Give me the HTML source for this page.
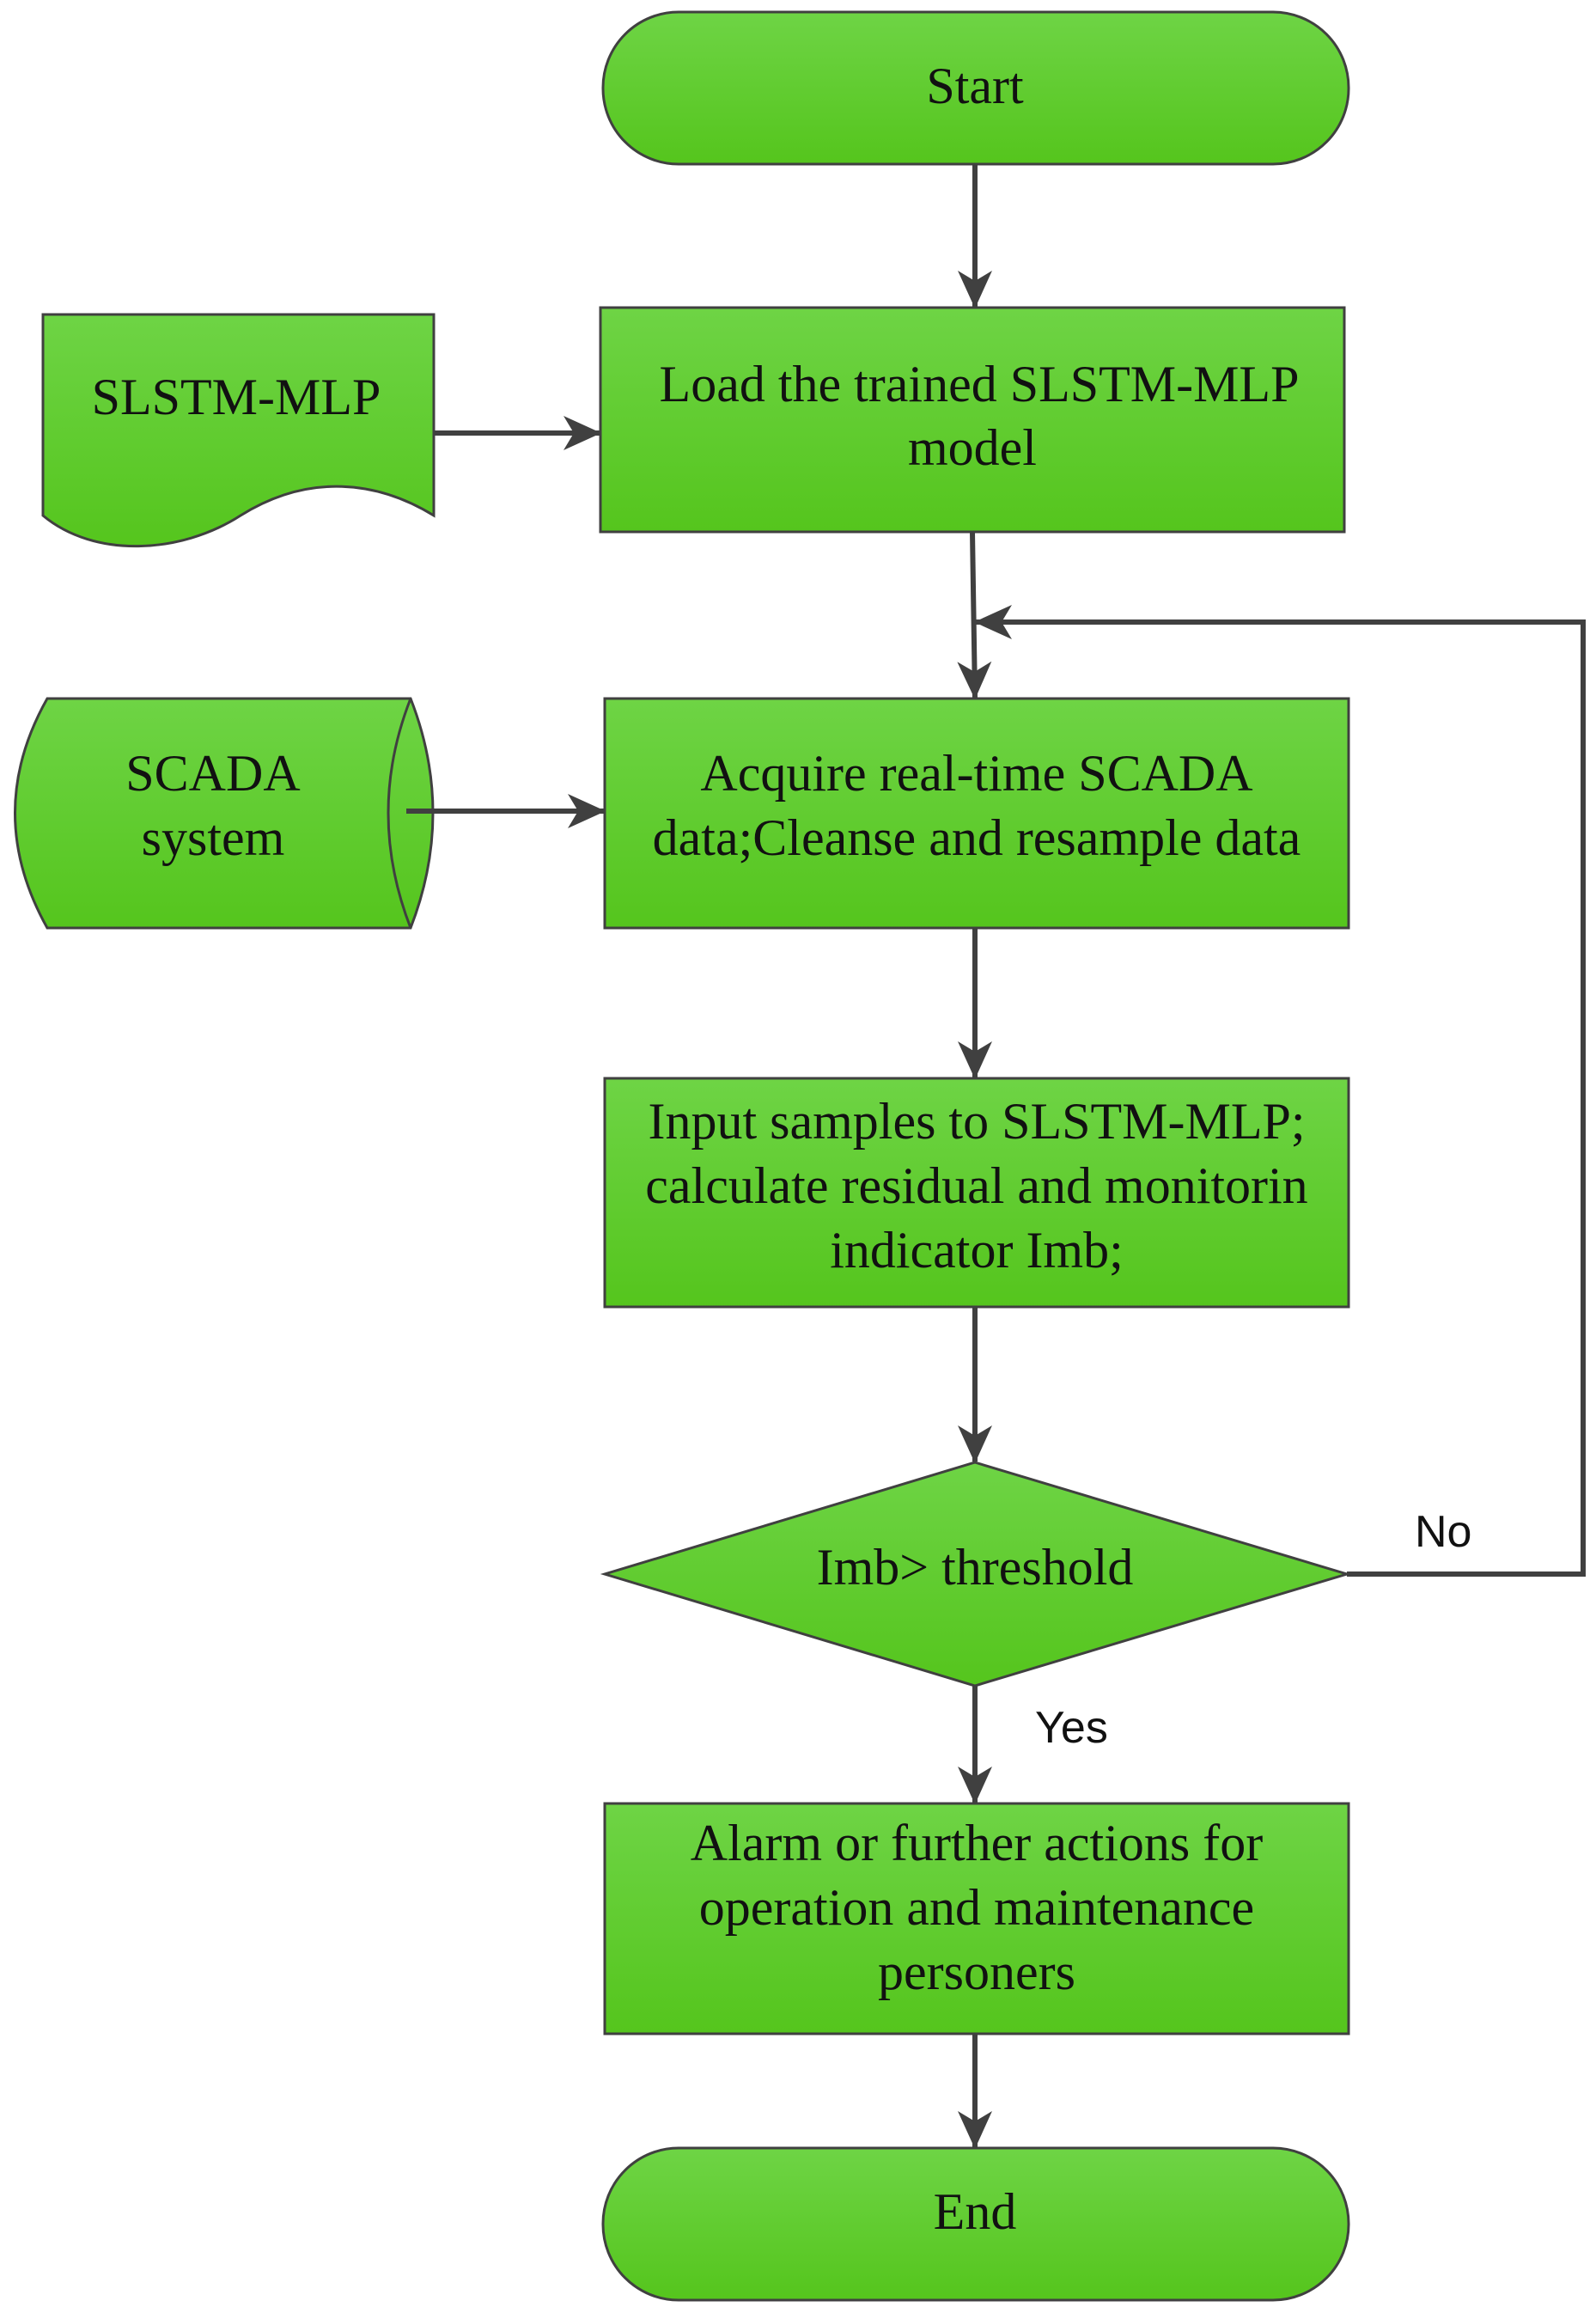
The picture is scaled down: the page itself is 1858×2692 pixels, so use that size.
<!DOCTYPE html>
<html><head><style>html,body{margin:0;padding:0;background:#fff}</style></head><body>
<svg width="1858" height="2687" viewBox="0 0 1858 2687" xmlns="http://www.w3.org/2000/svg">
<defs>
<linearGradient id="g" x1="0" y1="0" x2="0" y2="1"><stop offset="0" stop-color="#6ed445"/><stop offset="1" stop-color="#55c51d"/></linearGradient>
<marker id="a" markerWidth="44" markerHeight="40" refX="42" refY="20" orient="auto" markerUnits="userSpaceOnUse" viewBox="0 0 44 40"><path d="M0,0 L44,20 L0,40 L12,20 Z" fill="#404040"/></marker>
</defs>
<g fill="url(#g)" stroke="#404040" stroke-width="3">
<rect x="702" y="14" width="868" height="177" rx="88"/>
<rect x="699" y="358" width="866" height="261"/>
<path d="M50,366 L505,366 L505,600 C440,560 360,550 280,600 C210,645 110,650 50,600 Z"/>
<rect x="704" y="813" width="866" height="267"/>
<path d="M55,813 L478,813 Q530,946 478,1080 L55,1080 Q-20,946 55,813 Z"/>
<path d="M478,813 Q426,946 478,1080" fill="none"/>
<rect x="704" y="1255" width="866" height="266"/>
<path d="M1135,1702 L1568,1832 L1135,1962 L704,1832 Z"/>
<rect x="704" y="2099" width="866" height="268"/>
<rect x="702" y="2500" width="868" height="177" rx="88"/>
</g>
<g stroke="#404040" stroke-width="6" fill="none">
<line x1="1135" y1="191" x2="1135" y2="357" marker-end="url(#a)"/>
<line x1="505" y1="504" x2="698" y2="504" marker-end="url(#a)"/>
<line x1="1132" y1="619" x2="1135" y2="812" marker-end="url(#a)"/>
<polyline points="1568,1832 1843,1832 1843,724 1136,724" marker-end="url(#a)"/>
<line x1="473" y1="944" x2="703" y2="944" marker-end="url(#a)"/>
<line x1="1135" y1="1080" x2="1135" y2="1254" marker-end="url(#a)"/>
<line x1="1135" y1="1521" x2="1135" y2="1701" marker-end="url(#a)"/>
<line x1="1135" y1="1962" x2="1135" y2="2098" marker-end="url(#a)"/>
<line x1="1135" y1="2367" x2="1135" y2="2499" marker-end="url(#a)"/>
</g>
<style>.t{font-family:"Liberation Serif",serif;font-size:60px;fill:#111;text-anchor:middle}.s{font-family:"Liberation Sans",sans-serif;font-size:52px;fill:#111}</style>
<text class="t" x="1135" y="120">Start</text>
<text class="t" x="1140" y="467">Load the trained SLSTM-MLP</text>
<text class="t" x="1132" y="541">model</text>
<text class="t" x="275" y="482">SLSTM-MLP</text>
<text class="t" x="1137" y="920">Acquire real-time SCADA</text>
<text class="t" x="1137" y="995">data;Cleanse and resample data</text>
<text class="t" x="248" y="920">SCADA</text>
<text class="t" x="248" y="995">system</text>
<text class="t" x="1137" y="1325">Input samples to SLSTM-MLP;</text>
<text class="t" x="1137" y="1400">calculate residual and monitorin</text>
<text class="t" x="1137" y="1475">indicator Imb;</text>
<text class="t" x="1135" y="1844">Imb&gt; threshold</text>
<text class="s" x="1647" y="1800">No</text>
<text class="s" x="1205" y="2028">Yes</text>
<text class="t" x="1137" y="2165">Alarm or further actions for</text>
<text class="t" x="1137" y="2240">operation and maintenance</text>
<text class="t" x="1137" y="2315">personers</text>
<text class="t" x="1135" y="2594">End</text>
</svg>
</body></html>
